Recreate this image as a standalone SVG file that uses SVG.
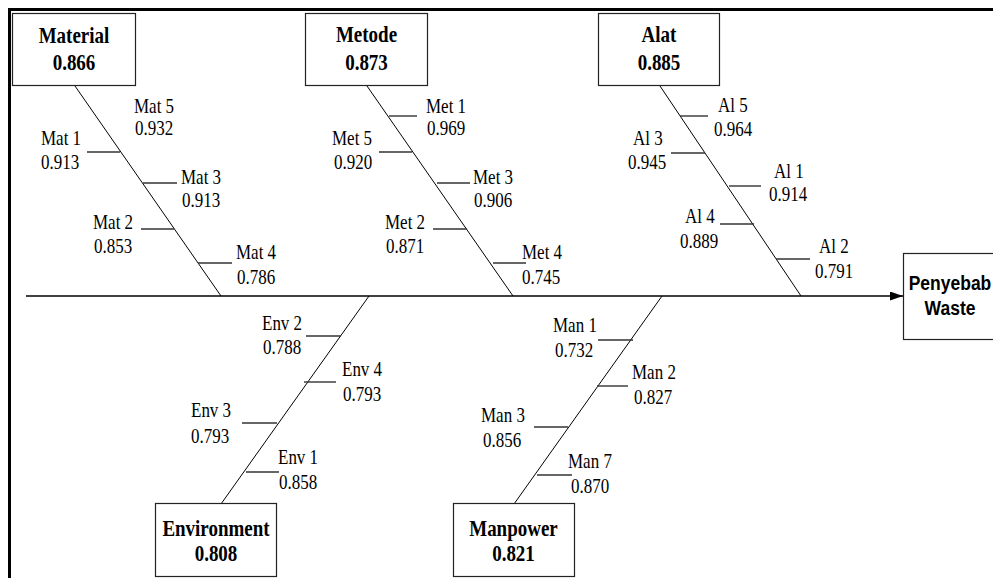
<svg xmlns="http://www.w3.org/2000/svg" width="993" height="578" viewBox="0 0 993 578">
<style>
.t{font-family:"Liberation Serif","Times New Roman",serif;font-size:17px;fill:#000}
.b{font-family:"Liberation Serif","Times New Roman",serif;font-size:19px;font-weight:bold;text-anchor:middle;fill:#000}
.s{font-family:"Liberation Sans",Arial,sans-serif;font-size:17.5px;font-weight:bold;text-anchor:middle;fill:#000}
.box{fill:#fff;stroke:#222;stroke-width:1.2}
.spine{stroke:#000;stroke-width:1;fill:none}
.tick{stroke:#333;stroke-width:1.4;fill:none}
.main{stroke:#000;stroke-width:1.4;fill:none}
</style>
<defs>
<marker id="arr" markerWidth="13" markerHeight="9" refX="13" refY="4.5" orient="auto" markerUnits="userSpaceOnUse">
<path d="M0,0 L13,4.5 L0,9 Z" fill="#000"/>
</marker>
</defs>
<rect x="0" y="0" width="993" height="578" fill="#fff"/>
<path d="M9.5,578 V9.5 H993" fill="none" stroke="#000" stroke-width="3"/>

<g id="connectors">
<path class="main" d="M26,296 H903" marker-end="url(#arr)"/>
<line class="spine" x1="75" y1="86" x2="221" y2="296"/>
<line class="spine" x1="367" y1="86" x2="513" y2="296"/>
<line class="spine" x1="660" y1="86" x2="801" y2="296"/>
<line class="spine" x1="221" y1="504" x2="369" y2="296"/>
<line class="spine" x1="514" y1="504" x2="662" y2="296"/>
<line class="tick" x1="87" y1="152" x2="120" y2="152"/>
<line class="tick" x1="143" y1="183" x2="177" y2="183"/>
<line class="tick" x1="141" y1="229" x2="174" y2="229"/>
<line class="tick" x1="198" y1="263" x2="232" y2="263"/>
<line class="tick" x1="389" y1="116" x2="417" y2="116"/>
<line class="tick" x1="379" y1="152" x2="412" y2="152"/>
<line class="tick" x1="437" y1="183" x2="470" y2="183"/>
<line class="tick" x1="433" y1="229" x2="467" y2="229"/>
<line class="tick" x1="493" y1="263" x2="526" y2="263"/>
<line class="tick" x1="680" y1="116" x2="708" y2="116"/>
<line class="tick" x1="671" y1="153" x2="705" y2="153"/>
<line class="tick" x1="729" y1="186" x2="761" y2="186"/>
<line class="tick" x1="720" y1="224" x2="754" y2="224"/>
<line class="tick" x1="776" y1="259" x2="810" y2="259"/>
<line class="tick" x1="306" y1="336" x2="341" y2="336"/>
<line class="tick" x1="304" y1="382" x2="336" y2="382"/>
<line class="tick" x1="242" y1="423" x2="277" y2="423"/>
<line class="tick" x1="246" y1="472" x2="279" y2="472"/>
<line class="tick" x1="598" y1="340" x2="633" y2="340"/>
<line class="tick" x1="597" y1="386" x2="628" y2="386"/>
<line class="tick" x1="534" y1="427" x2="568" y2="427"/>
<line class="tick" x1="537" y1="475" x2="572" y2="475"/>
</g>

<g id="node-material">
<rect class="box" x="12.5" y="13.5" width="123" height="72"/>
<text class="b" transform="translate(74,43) scale(1,1.2)">Material</text>
<text class="b" transform="translate(74,70) scale(1,1.2)">0.866</text>
</g>
<g id="node-metode">
<rect class="box" x="305.5" y="13.5" width="122" height="72"/>
<text class="b" transform="translate(366.5,42) scale(1,1.2)">Metode</text>
<text class="b" transform="translate(366.5,70) scale(1,1.2)">0.873</text>
</g>
<g id="node-alat">
<rect class="box" x="598.5" y="13.5" width="121" height="72"/>
<text class="b" transform="translate(659,42) scale(1,1.2)">Alat</text>
<text class="b" transform="translate(659,70) scale(1,1.2)">0.885</text>
</g>
<g id="node-environment">
<rect class="box" x="155.5" y="503.5" width="121" height="73"/>
<text class="b" transform="translate(216,536) scale(1,1.2)">Environment</text>
<text class="b" transform="translate(216,561) scale(1,1.2)">0.808</text>
</g>
<g id="node-manpower">
<rect class="box" x="453.5" y="503.5" width="121" height="73"/>
<text class="b" transform="translate(513.5,536) scale(1,1.2)">Manpower</text>
<text class="b" transform="translate(513.5,561) scale(1,1.2)">0.821</text>
</g>
<g id="node-effect">
<rect class="box" x="903.5" y="253.5" width="100" height="86"/>
<text class="s" transform="translate(950,290) scale(1,1.2)">Penyebab</text>
<text class="s" transform="translate(950,315) scale(1,1.2)">Waste</text>
</g>

<g id="mat5"><text class="t" transform="translate(134,113) scale(1,1.2)">Mat 5</text><text class="t" transform="translate(135,135) scale(1,1.2)">0.932</text></g>
<g id="mat1"><text class="t" transform="translate(41,145) scale(1,1.2)">Mat 1</text><text class="t" transform="translate(41,169) scale(1,1.2)">0.913</text></g>
<g id="mat3"><text class="t" transform="translate(181,184) scale(1,1.2)">Mat 3</text><text class="t" transform="translate(182,207) scale(1,1.2)">0.913</text></g>
<g id="mat2"><text class="t" transform="translate(93,229) scale(1,1.2)">Mat 2</text><text class="t" transform="translate(94,253) scale(1,1.2)">0.853</text></g>
<g id="mat4"><text class="t" transform="translate(236,259) scale(1,1.2)">Mat 4</text><text class="t" transform="translate(237,284) scale(1,1.2)">0.786</text></g>

<g id="met1"><text class="t" transform="translate(426,113) scale(1,1.2)">Met 1</text><text class="t" transform="translate(427,135) scale(1,1.2)">0.969</text></g>
<g id="met5"><text class="t" transform="translate(332,145) scale(1,1.2)">Met 5</text><text class="t" transform="translate(334,169) scale(1,1.2)">0.920</text></g>
<g id="met3"><text class="t" transform="translate(473,184) scale(1,1.2)">Met 3</text><text class="t" transform="translate(474,207) scale(1,1.2)">0.906</text></g>
<g id="met2"><text class="t" transform="translate(385,229) scale(1,1.2)">Met 2</text><text class="t" transform="translate(386,253) scale(1,1.2)">0.871</text></g>
<g id="met4"><text class="t" transform="translate(522,259) scale(1,1.2)">Met 4</text><text class="t" transform="translate(522,284) scale(1,1.2)">0.745</text></g>

<g id="al5"><text class="t" transform="translate(718,112) scale(1,1.2)">Al 5</text><text class="t" transform="translate(714,136) scale(1,1.2)">0.964</text></g>
<g id="al3"><text class="t" transform="translate(633,145) scale(1,1.2)">Al 3</text><text class="t" transform="translate(628,169) scale(1,1.2)">0.945</text></g>
<g id="al1"><text class="t" transform="translate(774,178) scale(1,1.2)">Al 1</text><text class="t" transform="translate(769,201) scale(1,1.2)">0.914</text></g>
<g id="al4"><text class="t" transform="translate(685,223) scale(1,1.2)">Al 4</text><text class="t" transform="translate(680,248) scale(1,1.2)">0.889</text></g>
<g id="al2"><text class="t" transform="translate(819,253) scale(1,1.2)">Al 2</text><text class="t" transform="translate(815,278) scale(1,1.2)">0.791</text></g>

<g id="env2"><text class="t" transform="translate(262,330) scale(1,1.2)">Env 2</text><text class="t" transform="translate(263,354) scale(1,1.2)">0.788</text></g>
<g id="env4"><text class="t" transform="translate(342,376) scale(1,1.2)">Env 4</text><text class="t" transform="translate(343,401) scale(1,1.2)">0.793</text></g>
<g id="env3"><text class="t" transform="translate(191,417) scale(1,1.2)">Env 3</text><text class="t" transform="translate(191,443) scale(1,1.2)">0.793</text></g>
<g id="env1"><text class="t" transform="translate(278,464) scale(1,1.2)">Env 1</text><text class="t" transform="translate(279,489) scale(1,1.2)">0.858</text></g>

<g id="man1"><text class="t" transform="translate(553,332) scale(1,1.2)">Man 1</text><text class="t" transform="translate(555,357) scale(1,1.2)">0.732</text></g>
<g id="man2"><text class="t" transform="translate(632,379) scale(1,1.2)">Man 2</text><text class="t" transform="translate(634,404) scale(1,1.2)">0.827</text></g>
<g id="man3"><text class="t" transform="translate(481,422) scale(1,1.2)">Man 3</text><text class="t" transform="translate(483,447) scale(1,1.2)">0.856</text></g>
<g id="man7"><text class="t" transform="translate(568,468) scale(1,1.2)">Man 7</text><text class="t" transform="translate(571,493) scale(1,1.2)">0.870</text></g>
</svg>
